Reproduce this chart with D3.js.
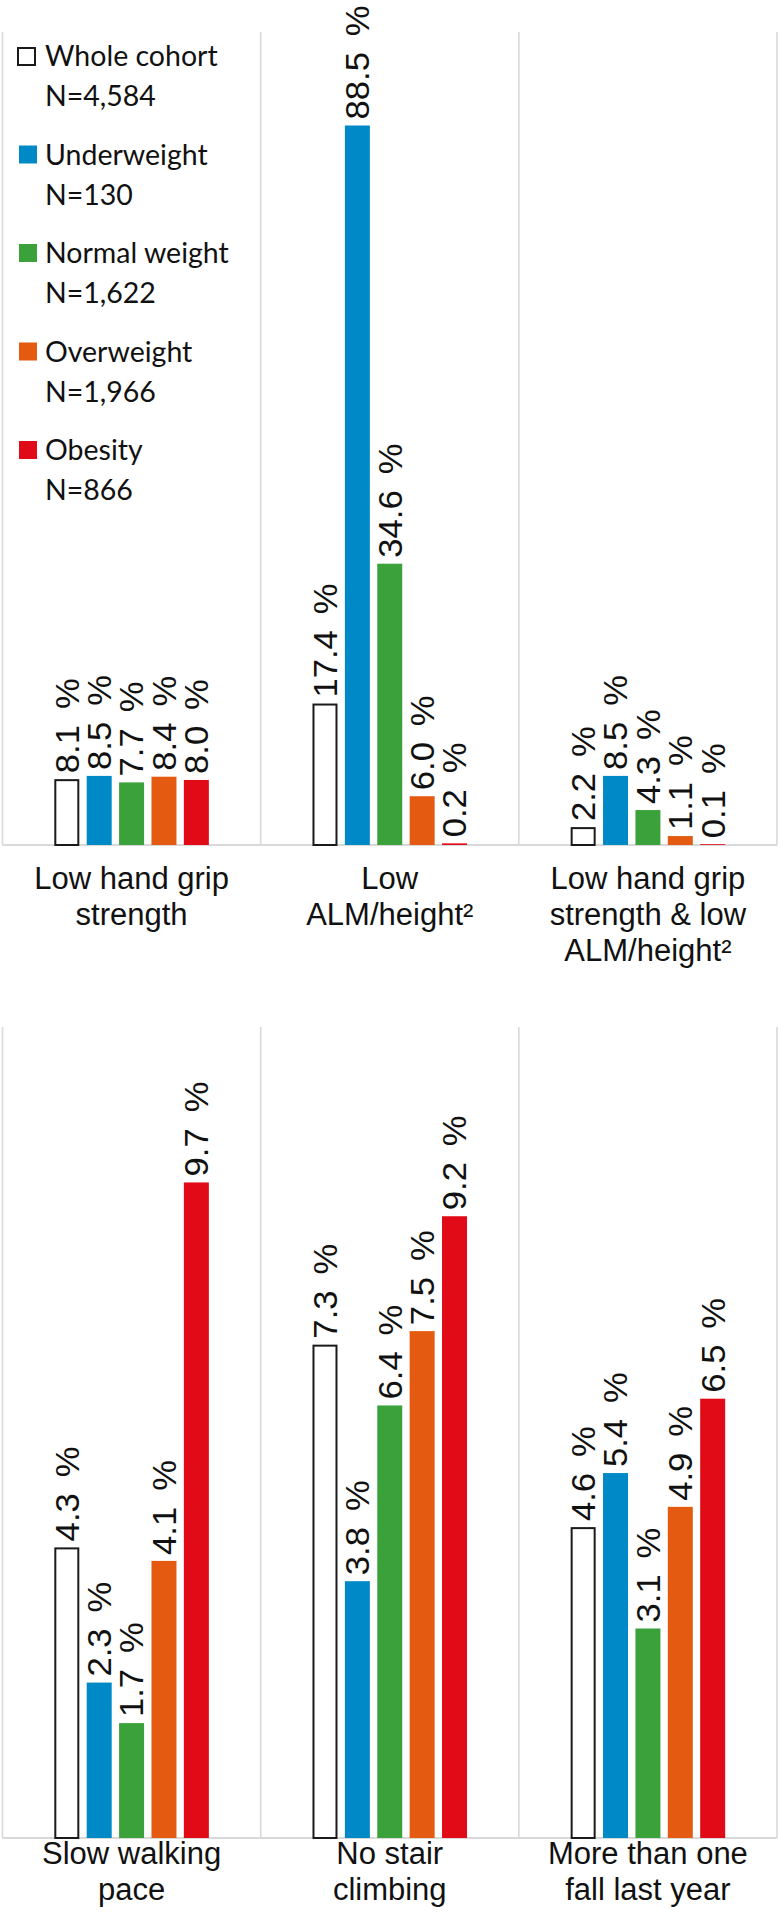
<!DOCTYPE html>
<html>
<head>
<meta charset="utf-8">
<script src="https://cdn.jsdelivr.net/npm/d3@7"></script>
<style>
  html, body { margin: 0; padding: 0; background: #ffffff; }
  svg { display: block; }
</style>
</head>
<body>
<svg id="chart" width="780" height="1931"></svg>
<script>
// ---------- data ----------
const series = ["Whole cohort", "Underweight", "Normal weight", "Overweight", "Obesity"];
const seriesN = ["N=4,584", "N=130", "N=1,622", "N=1,966", "N=866"];

const topCategories = [
  ["Low hand grip", "strength"],
  ["Low", "ALM/height²"],
  ["Low hand grip", "strength & low", "ALM/height²"]
];
const topWhole  = [8.1, 17.4, 2.2];
const topUnder  = [8.5, 88.5, 8.5];
const topNormal = [7.7, 34.6, 4.3];
const topOver   = [8.4, 6.0, 1.1];
const topObese  = [8.0, 0.2, 0.1];

const bottomCategories = [
  ["Slow walking", "pace"],
  ["No stair", "climbing"],
  ["More than one", "fall last year"]
];
const bottomWhole  = [4.3, 7.3, 4.6];
const bottomUnder  = [2.3, 3.8, 5.4];
const bottomNormal = [1.7, 6.4, 3.1];
const bottomOver   = [4.1, 7.5, 4.9];
const bottomObese  = [9.7, 9.2, 6.5];

const topDomain = [0, 100];
const bottomDomain = [0, 12];

// ---------- styles ----------
const colors = ["#ffffff", "#0089c7", "#3ba13b", "#e45a11", "#e10a17"];
const gridColor = "#d9d9d9";
const textColor = "#111111";

const svg = d3.select("#chart");
svg.append("rect").attr("width", 780).attr("height", 1931).attr("fill", "#fff");

function drawPanel(cfg) {
  const { categories, values, domain, yTop, yBase, labelY } = cfg;
  const g = svg.append("g");
  const keys = categories.map((c, i) => i);
  const x = d3.scaleBand().domain(keys).range([2.5, 777]).paddingInner(0).paddingOuter(0);
  const xs = d3.scaleBand().domain(series).range([0, x.bandwidth()])
    .paddingInner(0.228).paddingOuter(1.6);
  const y = d3.scaleLinear().domain(domain).range([yBase, yTop]);

  // vertical separators
  const bounds = keys.map(k => x(k)).concat([x(keys[keys.length - 1]) + x.bandwidth()]);
  g.selectAll("line.sep").data(bounds).join("line")
    .attr("x1", d => d).attr("x2", d => d)
    .attr("y1", y(domain[1])).attr("y2", yBase)
    .attr("stroke", gridColor).attr("stroke-width", 1.6);

  // baseline
  g.append("line")
    .attr("x1", bounds[0]).attr("x2", bounds[bounds.length - 1])
    .attr("y1", y(0)).attr("y2", y(0))
    .attr("stroke", gridColor).attr("stroke-width", 2);

  const rows = [];
  keys.forEach(k => {
    series.forEach((s, si) => {
      rows.push({ k, s, si, v: values[si][k] });
    });
  });

  g.selectAll("rect.bar").data(rows).join("rect")
    .attr("x", d => x(d.k) + xs(d.s) + (d.si === 0 ? 1 : 0))
    .attr("width", d => xs.bandwidth() - (d.si === 0 ? 2 : 0))
    .attr("y", d => y(d.v) + (d.si === 0 ? 1 : 0))
    .attr("height", d => Math.max(0, y(0) - y(d.v) - (d.si === 0 ? 1 : 0)))
    .attr("fill", d => colors[d.si])
    .attr("stroke", d => d.si === 0 ? "#1a1a1a" : "none")
    .attr("stroke-width", 2);

  g.selectAll("text.val").data(rows).join("text")
    .attr("transform", d => {
      const cx = x(d.k) + xs(d.s) + xs.bandwidth() / 2;
      return `translate(${cx},${y(d.v) - 6}) rotate(-90) scale(1.05,1)`;
    })
    .attr("dy", "0.36em")
    .attr("text-anchor", "start")
    .attr("font-family", "'Liberation Sans', Arial, sans-serif")
    .attr("font-size", 33)
    .attr("word-spacing", 6)
    .attr("fill", textColor)
    .text(d => d3.format(".1f")(d.v) + " %");

  // category labels
  keys.forEach(k => {
    const t = g.append("text")
      .attr("x", x(k) + x.bandwidth() / 2)
      .attr("y", labelY)
      .attr("text-anchor", "middle")
      .attr("font-family", "'Liberation Sans', Arial, sans-serif")
      .attr("font-size", 31)
      .attr("fill", textColor);
    categories[k].forEach((line, li) => {
      t.append("tspan").attr("x", x(k) + x.bandwidth() / 2)
        .attr("dy", li === 0 ? 0 : 36).text(line);
    });
  });
}

drawPanel({
  categories: topCategories,
  values: [topWhole, topUnder, topNormal, topOver, topObese],
  domain: topDomain, yTop: 32, yBase: 845, labelY: 889
});
drawPanel({
  categories: bottomCategories,
  values: [bottomWhole, bottomUnder, bottomNormal, bottomOver, bottomObese],
  domain: bottomDomain, yTop: 1027, yBase: 1838, labelY: 1864
});

// ---------- legend ----------
const legend = svg.append("g");
const legendBase = d3.scaleLinear().domain([0, 4]).range([66, 460]);
series.forEach((s, i) => {
  const by = legendBase(i);
  legend.append("rect")
    .attr("x", i === 0 ? 18 : 19).attr("y", by - (i === 0 ? 18 : 19))
    .attr("width", i === 0 ? 17 : 18).attr("height", i === 0 ? 17 : 18)
    .attr("fill", colors[i])
    .attr("stroke", i === 0 ? "#1a1a1a" : "none")
    .attr("stroke-width", 2);
  legend.append("text")
    .attr("x", 45).attr("y", by)
    .attr("font-family", "Lato, 'Open Sans', sans-serif")
    .attr("font-size", 28.5)
    .attr("fill", textColor)
    .text(s);
  legend.append("text")
    .attr("x", 45).attr("y", by + 40)
    .attr("font-family", "Lato, 'Open Sans', sans-serif")
    .attr("font-size", 28.5)
    .attr("fill", textColor)
    .text(seriesN[i]);
});
</script>
</body>
</html>
